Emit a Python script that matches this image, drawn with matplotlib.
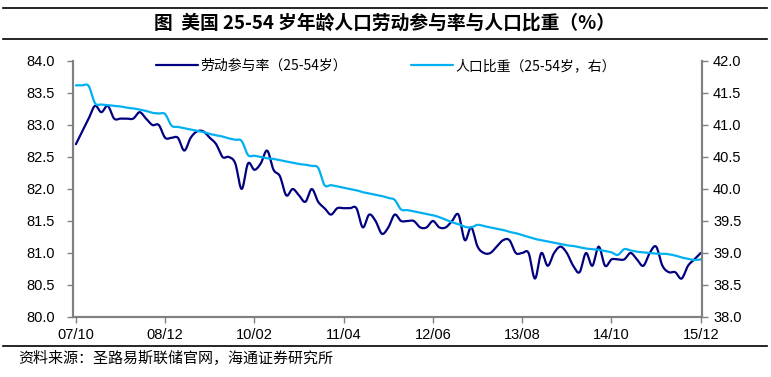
import numpy as np
import pandas as pd
import matplotlib
matplotlib.use("Agg")
import matplotlib.pyplot as plt
from matplotlib.lines import Line2D

plt.rcParams['font.family'] = ['Noto Sans CJK SC', 'DejaVu Sans']

# ---------------- data ----------------
months = pd.date_range("2007-10-01", "2015-12-01", freq="MS").strftime("%y/%m").tolist()
tick_labels = ['07/10', '08/12', '10/02', '11/04', '12/06', '13/08', '14/10', '15/12']

lfpr = [82.7, 82.9, 83.1, 83.3, 83.2, 83.3, 83.1, 83.1, 83.1, 83.1,
        83.2, 83.1, 83.0, 83.0, 82.8, 82.8, 82.8, 82.6, 82.8, 82.9,
        82.9, 82.8, 82.7, 82.5, 82.5, 82.4, 82.0, 82.4, 82.3, 82.4,
        82.6, 82.3, 82.2, 81.9, 82.0, 81.9, 81.8, 82.0, 81.8, 81.7,
        81.6, 81.7, 81.7, 81.7, 81.7, 81.4, 81.6, 81.5, 81.3, 81.4,
        81.6, 81.5, 81.5, 81.5, 81.4, 81.4, 81.5, 81.4, 81.4, 81.5,
        81.6, 81.2, 81.4, 81.1, 81.0, 81.0, 81.1, 81.2, 81.2, 81.0,
        81.0, 81.0, 80.6, 81.0, 80.8, 81.0, 81.1, 81.0, 80.8, 80.7,
        81.0, 80.8, 81.1, 80.8, 80.9, 80.9, 80.9, 81.0, 80.9, 80.8,
        81.0, 81.1, 80.8, 80.7, 80.7, 80.6, 80.8, 80.9, 81.0]

pop_share = [41.62, 41.62, 41.61, 41.34, 41.32, 41.31, 41.30, 41.29, 41.27, 41.26,
             41.24, 41.22, 41.19, 41.18, 41.17, 40.99, 40.97, 40.95, 40.93, 40.91,
             40.89, 40.86, 40.84, 40.82, 40.79, 40.77, 40.75, 40.53, 40.52, 40.50,
             40.48, 40.47, 40.45, 40.43, 40.41, 40.39, 40.38, 40.36, 40.33, 40.06,
             40.06, 40.04, 40.02, 40.00, 39.98, 39.95, 39.93, 39.91, 39.89, 39.86,
             39.83, 39.68, 39.67, 39.65, 39.63, 39.61, 39.59, 39.56, 39.52, 39.48,
             39.45, 39.41, 39.40, 39.44, 39.42, 39.40, 39.38, 39.36, 39.33, 39.31,
             39.28, 39.25, 39.22, 39.20, 39.18, 39.16, 39.14, 39.12, 39.11, 39.09,
             39.07, 39.06, 39.05, 39.03, 39.01, 38.97, 39.06, 39.04, 39.02, 39.01,
             39.00, 38.99, 38.99, 38.98, 38.96, 38.93, 38.91, 38.89, 38.90]

label_lfpr = "劳动参与率（25-54岁）"
label_pop = "人口比重（25-54岁，右）"
title = "图  美国 25-54 岁年龄人口劳动参与率与人口比重（%）"
source = "资料来源：圣路易斯联储官网，海通证券研究所"


def smooth(y, n=10):
    """Catmull-Rom style smoothing (like Excel smoothed lines)."""
    y = np.asarray(y, float)
    ext = np.concatenate([[2 * y[0] - y[1]], y, [2 * y[-1] - y[-2]]])
    xs, ys = [], []
    t = np.linspace(0, 1, n, endpoint=False)
    h00 = 2 * t**3 - 3 * t**2 + 1
    h10 = t**3 - 2 * t**2 + t
    h01 = -2 * t**3 + 3 * t**2
    h11 = t**3 - t**2
    for i in range(len(y) - 1):
        p0, p1, p2, p3 = ext[i:i + 4]
        m1 = (p2 - p0) / 2
        m2 = (p3 - p1) / 2
        ys.append(h00 * p1 + h10 * m1 + h01 * p2 + h11 * m2)
        xs.append(i + t)
    xs.append([len(y) - 1])
    ys.append([y[-1]])
    return np.concatenate(xs), np.concatenate(ys)


W, H = 771, 377
fig = plt.figure(figsize=(W / 100, H / 100), dpi=100)
ax = fig.add_axes([72.7 / W, 1 - 317 / H, (702 - 72.7) / W, (317 - 61) / H])
ax2 = ax.twinx()

dark = '#000080'
light = '#00B0F0'
grey = '#808080'

xs, ys = smooth(lfpr)
l1, = ax.plot(xs, ys, color=dark, lw=1.6, solid_capstyle='round', label=label_lfpr)
xs2, ys2 = smooth(pop_share)
l2, = ax2.plot(xs2, ys2, color=light, lw=1.6, solid_capstyle='round', label=label_pop)

n = len(lfpr)
ax.set_xlim(-0.5, n - 1 + 0.2)
ax.set_ylim(80, 84)
ax2.set_ylim(38, 42)
ax.set_yticks(np.arange(80, 84.01, 0.5))
ax2.set_yticks(np.arange(38, 42.01, 0.5))
ax.set_yticklabels([f"{v:.1f}" for v in np.arange(80, 84.01, 0.5)])
ax2.set_yticklabels([f"{v:.1f}" for v in np.arange(38, 42.01, 0.5)])

tick_pos = [months.index(lbl) for lbl in tick_labels]
ax.set_xticks(tick_pos)
ax.set_xticklabels(tick_labels)

for lab in ax.get_xticklabels() + ax.get_yticklabels() + ax2.get_yticklabels():
    lab.set_fontfamily(['Liberation Sans', 'DejaVu Sans'])
    lab.set_fontsize(10.5)
    lab.set_color('#000000')

for a in (ax, ax2):
    a.spines['top'].set_visible(False)
    for s in ('left', 'right', 'bottom'):
        a.spines[s].set_color(grey)
        a.spines[s].set_linewidth(1.5)
ax.tick_params(axis='y', direction='out', length=4, width=1, color=grey, pad=9)
ax.tick_params(axis='x', direction='out', length=4, width=1, color=grey, pad=4)
ax2.tick_params(axis='y', direction='out', length=4, width=1, color=grey, pad=4)

fig.legend(handles=[l1, l2], loc='center', bbox_to_anchor=(386 / W, 1 - 66 / H),
           ncol=2, frameon=False, fontsize=10, handlelength=3.0,
           handletextpad=0.2, columnspacing=4.6, borderpad=0, borderaxespad=0)

# title band
fig.add_artist(Line2D([3 / W, 767 / W], [1 - 8 / H, 1 - 8 / H], color='black', lw=1.2))
fig.add_artist(Line2D([3 / W, 767 / W], [1 - 39 / H, 1 - 39 / H], color='black', lw=1.2))
fig.text(385 / W, 1 - 23 / H, title, ha='center', va='center', fontsize=13.5,
         fontweight='bold')

# bottom source band
fig.add_artist(Line2D([3 / W, 767 / W], [1 - 346 / H, 1 - 346 / H], color='black', lw=1.2))
fig.text(18 / W, 1 - 358 / H, source, ha='left', va='center', fontsize=10.8)

fig.savefig("out.png", dpi=100)
